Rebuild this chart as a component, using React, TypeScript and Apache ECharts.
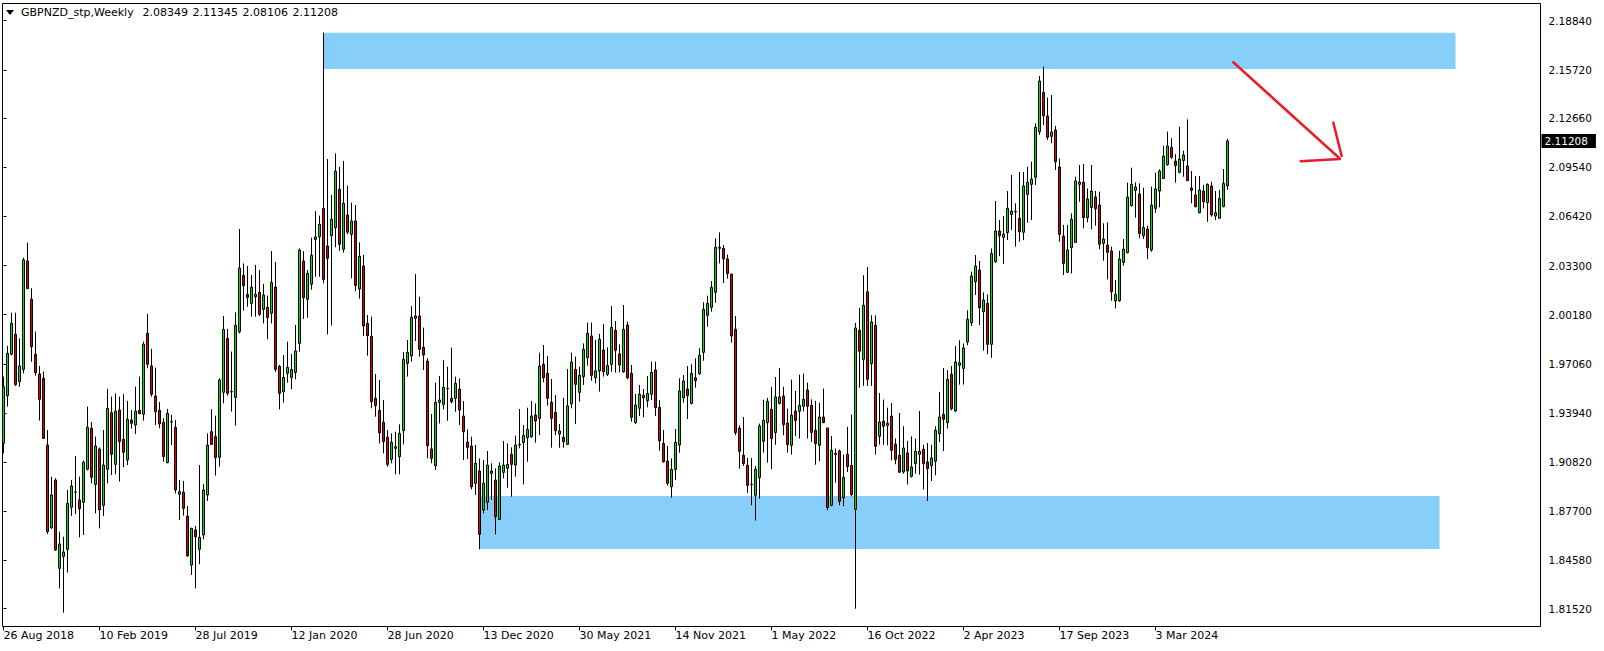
import React, { useEffect, useRef } from 'react';
import * as echarts from 'echarts';

// ---------- data ----------
const symbolName = 'GBPNZD_stp,Weekly';
const firstWeekUTC = Date.UTC(2018, 7, 26); // 26 Aug 2018
const emptyWeeksRight = 78; // chart shift (empty slots to the right)

const opens = [
  1.9202, 1.9504, 1.9767, 1.9894, 1.9593, 1.9671, 2.0359, 2.0116, 1.9767, 1.9642,
  1.9614, 1.9191, 1.8666, 1.8969, 1.8408, 1.8484, 1.8529, 1.8796, 1.8891, 1.8842,
  1.8827, 1.9037, 1.9297, 1.8941, 1.9166, 1.8808, 1.9037, 1.9396, 1.9068, 1.9413,
  1.9227, 1.9096, 1.9350, 1.9318, 1.9411, 1.9386, 1.9900, 1.9693, 1.9502, 1.9411,
  1.9335, 1.9079, 1.9339, 1.9303, 1.8878, 1.8891, 1.8740, 1.8429, 1.8652, 1.8529,
  1.8620, 1.8874, 1.9276, 1.9244, 1.9113, 1.9525, 1.9868, 1.9530,
  1.9493, 1.9910, 2.0268, 2.0147, 2.0090, 2.0132, 2.0160, 2.0052, 2.0065, 2.0027,
  2.0194, 1.9690, 1.9529, 1.9646, 1.9620, 1.9652, 1.9836, 2.0359, 2.0116, 2.0211,
  2.0496, 2.0513, 2.0693, 2.0454, 2.0520, 2.0571, 2.0814, 2.0433, 2.0651, 2.0528,
  2.0613, 2.0181, 2.0327, 1.9963, 1.9881, 1.9487, 1.9411, 1.9335, 1.9240, 1.9100,
  1.9170, 1.9117, 1.9282, 1.9709, 1.9756, 1.9995, 2.0010, 1.9811, 1.9724, 1.9166,
  1.9060, 1.9462, 1.9449, 1.9551, 1.9487, 1.9487, 1.9546, 1.9375, 1.9210, 1.9185,
  1.8948, 1.9026, 1.8778, 1.8827, 1.9011, 1.8969, 1.8719, 1.9017, 1.9043, 1.9132,
  1.9064, 1.9191, 1.9206, 1.9237, 1.9244, 1.9381, 1.9360, 1.9703, 1.9646, 1.9462,
  1.9398, 1.9261, 1.9240, 1.9195, 1.9453, 1.9671, 1.9525, 1.9625, 1.9745, 1.9883,
  1.9618, 1.9661, 1.9794, 1.9640, 1.9703, 1.9919, 1.9769, 1.9656, 1.9953, 1.9646,
  1.9333, 1.9424, 1.9506, 1.9472, 1.9513, 1.9667, 1.9430, 1.9201, 1.9089, 1.8926,
  1.9036, 1.9191, 1.9491, 1.9546, 1.9455, 1.9618, 1.9644, 1.9779, 2.0014, 2.0065, 2.0160, 2.0446,
  2.0439, 2.0372, 2.0275, 1.9926,
  1.9299, 1.9126, 1.9062, 1.8942, 1.8872, 1.8984, 1.9215, 1.9333, 1.9418, 1.9270,
  1.9454, 1.9502, 1.9331, 1.9189, 1.9407, 1.9405, 1.9437, 1.9540, 1.9443, 1.9284,
  1.9189, 1.9369, 1.9299, 1.8808, 1.9132, 1.9153, 1.8855, 1.9132, 1.9062, 1.8783,
  1.9919, 1.9735, 2.0163, 1.9708, 1.9951, 1.9246, 1.9342, 1.9316, 1.9375, 1.9196,
  1.9126, 1.9020, 1.9141, 1.8992, 1.9073, 1.9132, 1.9164, 1.9083, 1.9060, 1.9088,
  1.9263, 1.9386, 1.9333, 1.9640, 1.9407, 1.9697, 1.9676, 1.9845,
  1.9967, 2.0228, 2.0302, 2.0037, 2.0090, 1.9830, 2.0354, 2.0549, 2.0509, 2.0539,
  2.0655, 2.0672, 2.0630, 2.0541, 2.0782, 2.0845, 2.0890, 2.1180, 2.1429, 2.1279,
  2.1150, 2.1190, 2.0955, 2.0517, 2.0287, 2.0443, 2.0477, 2.0845, 2.0858, 2.0634,
  2.0699, 2.0765, 2.0714, 2.0471, 2.0460, 2.0422, 2.0105, 2.0107, 2.0350, 2.0412,
  2.0710, 2.0807, 2.0784, 2.0519, 2.0562, 2.0429, 2.0693, 2.0803, 2.0883, 2.0970,
  2.1080, 2.0993, 2.0922, 2.0996, 2.0962, 2.0822, 2.0778, 2.0665, 2.0803, 2.0729,
  2.0835, 2.0644, 2.0630, 2.0704, 2.08349,
];

const highs = [
  1.9625, 1.9820, 2.0031, 2.0031, 1.9868, 2.0380, 2.0476, 2.0186, 1.9911, 1.9693,
  1.9657, 1.9286, 1.8990, 1.8980, 1.8641, 1.8609, 1.8906, 1.8969, 1.9121, 1.8990,
  1.9092, 1.9435, 1.9337, 1.9244, 1.9176, 1.9286, 1.9547, 1.9498, 1.9519, 1.9498,
  1.9515, 1.9471, 1.9413, 1.9561, 1.9625, 1.9847, 2.0023, 1.9801, 1.9682, 1.9464,
  1.9361, 1.9420, 1.9382, 1.9350, 1.8969, 1.8963, 1.8804, 1.8666, 1.8677, 1.9064,
  1.8944, 1.9265, 1.9418, 1.9377, 1.9614, 2.0010, 1.9928, 1.9784,
  2.0033, 2.0562, 2.0344, 2.0327, 2.0270, 2.0334, 2.0302, 2.0213, 2.0139, 2.0422,
  2.0353, 1.9699, 1.9762, 1.9847, 1.9769, 1.9953, 2.0439, 2.0422, 2.0302, 2.0507,
  2.0676, 2.0647, 2.1808, 2.1006, 2.0778, 2.1042, 2.0958, 2.0994, 2.0837, 2.0729,
  2.0714, 2.0477, 2.0397, 2.0016, 2.0006, 1.9642, 1.9604, 1.9477, 1.9286, 1.9265,
  1.9275, 1.9322, 1.9781, 1.9857, 2.0073, 2.0276, 2.0132, 1.9936, 1.9741, 1.9388,
  1.9587, 1.9629, 1.9731, 1.9688, 1.9809, 1.9625, 1.9614, 1.9470, 1.9290, 1.9244,
  1.9191, 1.9106, 1.9096, 1.9153, 1.9075, 1.9043, 1.9081, 1.9216, 1.9201, 1.9176,
  1.9250, 1.9420, 1.9318, 1.9428, 1.9470, 1.9455, 1.9777, 1.9826, 1.9756, 1.9610,
  1.9508, 1.9324, 1.9491, 1.9673, 1.9777, 1.9752, 1.9688, 1.9836, 1.9968, 1.9968,
  1.9858, 1.9896, 1.9959, 1.9811, 2.0073, 1.9978, 1.9830, 2.0080, 1.9974, 1.9699,
  1.9515, 1.9572, 1.9546, 1.9629, 1.9720, 1.9720, 1.9477, 1.9286, 1.9185, 1.9106,
  1.9293, 1.9614, 1.9635, 1.9692, 1.9703, 1.9741, 1.9805, 2.0097, 2.0139, 2.0232, 2.0503, 2.0541,
  2.0460, 2.0400, 2.0280, 2.0010,
  1.9316, 1.9369, 1.9109, 1.9109, 1.9058, 1.9327, 1.9479, 1.9490, 1.9560, 1.9623,
  1.9680, 1.9560, 1.9422, 1.9606, 1.9534, 1.9638, 1.9644, 1.9587, 1.9481, 1.9471,
  1.9460, 1.9549, 1.9300, 1.9248, 1.9168, 1.9162, 1.9130, 1.9306, 1.9384, 1.9966,
  2.0061, 2.0268, 2.0321, 2.0014, 2.0014, 1.9521, 1.9479, 1.9428, 1.9458, 1.9232,
  1.9394, 1.9310, 1.9217, 1.9246, 1.9232, 1.9407, 1.9193, 1.9204, 1.9193, 1.9310,
  1.9528, 1.9680, 1.9665, 1.9693, 1.9820, 1.9856, 1.9835, 2.0046,
  2.0291, 2.0397, 2.0359, 2.0160, 2.0147, 2.0439, 2.0740, 2.0619, 2.0644, 2.0803,
  2.0905, 2.0725, 2.0924, 2.0924, 2.0957, 2.0989, 2.1233, 2.1533, 2.1592, 2.1396,
  2.1412, 2.1216, 2.1010, 2.0588, 2.0588, 2.0661, 2.0894, 2.0968, 2.0974, 2.0820,
  2.0968, 2.0803, 2.0799, 2.0598, 2.0604, 2.0450, 2.0238, 2.0424, 2.0498, 2.0856,
  2.0951, 2.0858, 2.0852, 2.0824, 2.0583, 2.0831, 2.0919, 2.0941, 2.1089, 2.1180,
  2.1138, 2.1038, 2.1211, 2.1059, 2.1258, 2.0930, 2.0898, 2.0898, 2.0841, 2.0852,
  2.0862, 2.0803, 2.0810, 2.0943, 2.11345,
];

const lows = [
  1.9138, 1.9435, 1.9760, 1.9565, 1.9561, 1.9646, 2.0180, 1.9720, 1.9631, 1.9346,
  1.9230, 1.8626, 1.8658, 1.8520, 1.8281, 1.8127, 1.8381, 1.8740, 1.8753, 1.8605,
  1.8620, 1.9030, 1.8948, 1.8757, 1.8662, 1.8740, 1.8948, 1.9001, 1.9005, 1.8959,
  1.9049, 1.9064, 1.9295, 1.9261, 1.9386, 1.9346, 1.9678, 1.9498, 1.9318, 1.9297,
  1.9085, 1.9075, 1.9191, 1.8884, 1.8715, 1.8743, 1.8482, 1.8366, 1.8281, 1.8434,
  1.8592, 1.8836, 1.9191, 1.8997, 1.9054, 1.9456, 1.9504, 1.9403,
  1.9314, 1.9900, 2.0044, 2.0069, 2.0006, 2.0006, 2.0010, 1.9963, 1.9862, 1.9963,
  1.9656, 1.9417, 1.9460, 1.9587, 1.9544, 1.9608, 1.9783, 1.9991, 1.9999, 2.0177,
  2.0259, 2.0259, 2.0217, 1.9893, 1.9949, 2.0446, 2.0424, 2.0412, 2.0528, 2.0249,
  2.0168, 2.0120, 1.9883, 1.9758, 1.9424, 1.9371, 1.9201, 1.9138, 1.9053, 1.9075,
  1.9005, 1.9005, 1.9195, 1.9625, 1.9720, 1.9851, 1.9752, 1.9667, 1.9106, 1.9075,
  1.9032, 1.9328, 1.9417, 1.9345, 1.9455, 1.9402, 1.9318, 1.9096, 1.9102, 1.8909,
  1.8874, 1.8529, 1.8757, 1.8778, 1.8842, 1.8624, 1.8715, 1.8979, 1.8920, 1.8863,
  1.8990, 1.9170, 1.8941, 1.9085, 1.9237, 1.9206, 1.9254, 1.9589, 1.9441, 1.9174,
  1.9254, 1.9174, 1.9174, 1.9191, 1.9424, 1.9324, 1.9466, 1.9572, 1.9695, 1.9599,
  1.9582, 1.9530, 1.9625, 1.9629, 1.9656, 1.9650, 1.9652, 1.9650, 1.9608, 1.9339,
  1.9324, 1.9375, 1.9367, 1.9430, 1.9477, 1.9375, 1.9155, 1.9079, 1.8933, 1.8857,
  1.8969, 1.9142, 1.9460, 1.9356, 1.9449, 1.9555, 1.9635, 1.9726, 1.9942, 2.0037, 2.0094, 2.0344,
  2.0219, 2.0247, 1.9841, 1.9253,
  1.9041, 1.9058, 1.8887, 1.8808, 1.8711, 1.8851, 1.9143, 1.9079, 1.9037, 1.9193,
  1.9450, 1.9253, 1.9143, 1.9130, 1.9248, 1.9232, 1.9405, 1.9232, 1.9210, 1.9066,
  1.9088, 1.9330, 1.8777, 1.8802, 1.8952, 1.8808, 1.8802, 1.9020, 1.8865, 1.8152,
  1.9555, 1.9566, 1.9566, 1.9566, 1.9130, 1.9193, 1.9193, 1.9189, 1.9094, 1.9069,
  1.9016, 1.9009, 1.8940, 1.8984, 1.9009, 1.9003, 1.8908, 1.8836, 1.8963, 1.8999,
  1.9210, 1.9153, 1.9295, 1.9411, 1.9401, 1.9574, 1.9574, 1.9824,
  1.9946, 2.0143, 1.9952, 1.9790, 1.9768, 1.9745, 2.0348, 2.0390, 2.0340, 2.0492,
  2.0555, 2.0450, 2.0481, 2.0492, 2.0602, 2.0619, 2.0841, 2.1159, 2.1222, 2.1127,
  2.1106, 2.0936, 2.0481, 2.0270, 2.0285, 2.0280, 2.0475, 2.0735, 2.0566, 2.0604,
  2.0560, 2.0583, 2.0433, 2.0361, 2.0242, 2.0107, 2.0058, 2.0100, 2.0329, 2.0407,
  2.0704, 2.0634, 2.0503, 2.0498, 2.0371, 2.0418, 2.0665, 2.0699, 2.0879, 2.0964,
  2.1006, 2.0856, 2.0915, 2.0894, 2.0867, 2.0725, 2.0699, 2.0661, 2.0693, 2.0608,
  2.0640, 2.0619, 2.0628, 2.0700, 2.08106,
];

const closes = [
  1.9561, 1.9773, 1.9964, 1.9574, 1.9693, 2.0366, 2.0184, 1.9815, 1.9650, 1.9481,
  1.9233, 1.8641, 1.8874, 1.8525, 1.8563, 1.8512, 1.8821, 1.8931, 1.8893, 1.8787,
  1.9081, 1.9303, 1.8986, 1.9185, 1.8779, 1.9064, 1.9424, 1.9132, 1.9405, 1.9214,
  1.9145, 1.9354, 1.9329, 1.9407, 1.9390, 1.9832, 1.9703, 1.9513, 1.9403, 1.9325,
  1.9117, 1.9392, 1.9337, 1.8906, 1.8895, 1.8789, 1.8487, 1.8662, 1.8609, 1.8605,
  1.8906, 1.9191, 1.9195, 1.9111, 1.9604, 1.9925, 1.9519, 1.9528,
  1.9951, 2.0314, 2.0202, 2.0128, 2.0192, 2.0147, 2.0020, 2.0143, 2.0001, 2.0223,
  1.9671, 1.9519, 1.9620, 1.9684, 1.9671, 1.9788, 2.0429, 2.0126, 2.0281, 2.0395,
  2.0511, 2.0592, 2.0242, 2.0376, 2.0623, 2.0928, 2.0465, 2.0725, 2.0541, 2.0613,
  2.0204, 2.0389, 1.9946, 1.9885, 1.9466, 1.9441, 1.9269, 1.9212, 1.9068, 1.9208,
  1.9180, 1.9265, 1.9735, 1.9779, 2.0001, 2.0010, 1.9798, 1.9762, 1.9187, 1.9106,
  1.9462, 1.9477, 1.9557, 1.9549, 1.9466, 1.9582, 1.9413, 1.9275, 1.9176, 1.8926,
  1.9075, 1.8624, 1.8948, 1.9064, 1.9026, 1.8736, 1.9058, 1.9064, 1.9068, 1.9068,
  1.9191, 1.9195, 1.9252, 1.9290, 1.9375, 1.9343, 1.9692, 1.9618, 1.9487, 1.9360,
  1.9282, 1.9280, 1.9212, 1.9439, 1.9718, 1.9576, 1.9633, 1.9798, 1.9900, 1.9633,
  1.9661, 1.9862, 1.9656, 1.9695, 1.9938, 1.9792, 1.9699, 1.9925, 1.9618, 1.9367,
  1.9445, 1.9513, 1.9491, 1.9519, 1.9652, 1.9428, 1.9218, 1.9085, 1.8948, 1.9036,
  1.9208, 1.9534, 1.9597, 1.9504, 1.9646, 1.9599, 1.9760, 2.0052, 2.0090, 2.0192, 2.0446, 2.0439,
  2.0372, 2.0279, 1.9883, 1.9270,
  1.9151, 1.9073, 1.8935, 1.8940, 1.9037, 1.9312, 1.9348, 1.9468, 1.9232, 1.9496,
  1.9496, 1.9320, 1.9193, 1.9380, 1.9346, 1.9443, 1.9481, 1.9437, 1.9270, 1.9200,
  1.9369, 1.9333, 1.8794, 1.9157, 1.9138, 1.8834, 1.8986, 1.9054, 1.8876, 1.9934,
  1.9786, 2.0078, 1.9608, 1.9972, 1.9183, 1.9337, 1.9310, 1.9329, 1.9157, 1.9100,
  1.9018, 1.9172, 1.9026, 1.9052, 1.9151, 1.9151, 1.9073, 1.9041, 1.9109, 1.9284,
  1.9369, 1.9354, 1.9608, 1.9422, 1.9718, 1.9712, 1.9807, 1.9989,
  2.0264, 2.0327, 2.0062, 2.0111, 1.9830, 2.0407, 2.0549, 2.0519, 2.0530, 2.0693,
  2.0676, 2.0670, 2.0545, 2.0835, 2.0858, 2.0879, 2.1207, 2.1501, 2.1281, 2.1144,
  2.1178, 2.0989, 2.0528, 2.0344, 2.0429, 2.0623, 2.0867, 2.0860, 2.0634, 2.0752,
  2.0803, 2.0691, 2.0465, 2.0498, 2.0414, 2.0164, 2.0147, 2.0371, 2.0435, 2.0765,
  2.0845, 2.0828, 2.0534, 2.0572, 2.0443, 2.0714, 2.0816, 2.0930, 2.1025, 2.1089,
  2.1017, 2.0964, 2.1006, 2.1032, 2.0869, 2.0807, 2.0704, 2.0810, 2.0735, 2.0845,
  2.0651, 2.0665, 2.0756, 2.0852, 2.11208,
];

const priceTicks = [
  2.1884, 2.1572, 2.1266, 2.0954, 2.0642, 2.033, 2.0018,
  1.9706, 1.9394, 1.9082, 1.877, 1.8458, 1.8152,
];
const dateTickLabels = [
  '26 Aug 2018', '10 Feb 2019', '28 Jul 2019', '12 Jan 2020', '28 Jun 2020',
  '13 Dec 2020', '30 May 2021', '14 Nov 2021', '1 May 2022', '16 Oct 2022',
  '2 Apr 2023', '17 Sep 2023', '3 Mar 2024',
];
const weeksPerDateTick = 24;

// drawn objects: [fromBar, toBar, topPrice, bottomPrice]
const zoneUpper = [80, 363, 2.1808, 2.1577];
const zoneLower = [119, 359, 1.8867, 1.8531];
// red arrow segments: [bar, price]
const arrowShaft = [[307.45, 2.162], [334.0, 2.1011]];
const arrowHeadA = [[332.45, 2.1237], [334.55, 2.1025]];
const arrowHeadB = [[324.3, 2.0992], [334.1, 2.1006]];

const MONTHS = ['Jan', 'Feb', 'Mar', 'Apr', 'May', 'Jun', 'Jul', 'Aug', 'Sep', 'Oct', 'Nov', 'Dec'];
const barCount = opens.length;
const totalSlots = barCount + emptyWeeksRight;
const categories: string[] = [];
for (let i = 0; i < totalSlots; i++) {
  if (i < barCount) {
    const d = new Date(firstWeekUTC + i * 7 * 86400000);
    categories.push(`${d.getUTCDate()} ${MONTHS[d.getUTCMonth()]} ${d.getUTCFullYear()}`);
  } else {
    categories.push('');
  }
}

const FONT = 'DejaVu Sans';
const Y_MIN = 1.80391;
const Y_MAX = 2.19932;

export default function App() {
  const ref = useRef<HTMLDivElement>(null);
  useEffect(() => {
    if (!ref.current) return;
    const chart = echarts.init(ref.current, null, { renderer: 'svg' });
    const last = barCount - 1;
    const f5 = (v: number) => v.toFixed(5);
    const showTick = (index: number) => index % weeksPerDateTick === 0 && index < barCount;
    const headerText = (text: string, left: number) => ({
      text,
      left,
      top: 6,
      padding: 0,
      textStyle: {
        fontFamily: FONT,
        fontSize: 11,
        fontWeight: 'normal',
        color: '#000',
        lineHeight: 13,
      },
    });
    const arrowSeries = (name: string, pts: number[][]) => ({
      name,
      type: 'line',
      xAxisIndex: 1,
      yAxisIndex: 0,
      data: pts,
      symbol: 'none',
      silent: true,
      z: 6,
      lineStyle: { color: '#ec1c24', width: 2.5, cap: 'round' },
    });
    const ohlcLast = [opens[last], highs[last], lows[last], closes[last]];
    const option: any = {
      animation: false,
      backgroundColor: '#ffffff',
      title: [
        headerText(symbolName, 21),
        ...ohlcLast.map((v, k) => headerText(f5(v), 142.5 + k * 50)),
      ],
      grid: {
        left: 3.5,
        right: 64.5,
        top: 3.5,
        bottom: 24.5,
        containLabel: false,
        outerBoundsMode: 'none',
      },
      xAxis: [
        {
          type: 'category',
          data: categories,
          boundaryGap: false,
          axisLine: { show: false },
          axisTick: {
            show: true,
            interval: (index: number) => showTick(index),
            length: 4,
            lineStyle: { color: '#000', width: 1 },
          },
          axisLabel: {
            interval: (index: number) => showTick(index),
            formatter: (value: string, index: number) =>
              showTick(index) ? dateTickLabels[index / weeksPerDateTick] ?? value : '',
            align: 'left',
            margin: 3,
            fontFamily: FONT,
            fontSize: 11,
            color: '#000',
          },
          splitLine: { show: false },
        },
        {
          type: 'value',
          min: 0,
          max: totalSlots - 1,
          show: false,
        },
      ],
      yAxis: [
        {
          type: 'value',
          position: 'right',
          min: Y_MIN,
          max: Y_MAX,
          scale: true,
          axisLine: { show: false },
          splitLine: { show: false },
          axisTick: {
            show: true,
            inside: false,
            length: 3,
            customValues: priceTicks,
            lineStyle: { color: '#000', width: 1 },
          },
          axisLabel: {
            customValues: priceTicks,
            formatter: (v: number) => f5(v),
            margin: 9,
            fontFamily: FONT,
            fontSize: 10.5,
            color: '#000',
          },
        },
        {
          type: 'value',
          position: 'right',
          offset: 0,
          min: Y_MIN,
          max: Y_MAX,
          scale: true,
          axisLine: { show: false },
          splitLine: { show: false },
          axisTick: { show: false },
          axisLabel: {
            customValues: [closes[last]],
            formatter: (v: number) => f5(v),
            margin: 2,
            fontFamily: FONT,
            fontSize: 10.5,
            color: '#ffffff',
            backgroundColor: '#000000',
            padding: [2, 8, 1, 3],
          },
        },
      ],
      graphic: [
        {
          type: 'rect',
          z: 20,
          silent: true,
          shape: { x: 2.5, y: 3.5, width: 1538, height: 623 },
          style: { fill: 'none', stroke: '#000', lineWidth: 1 },
        },
        {
          type: 'polygon',
          z: 20,
          silent: true,
          shape: { points: [[6, 10], [14, 10], [10, 15]] },
          style: { fill: '#000', stroke: 'none' },
        },
      ],
      series: [
        {
          name: 'zones',
          type: 'line',
          xAxisIndex: 1,
          yAxisIndex: 0,
          data: [],
          silent: true,
          z: 1,
          markArea: {
            silent: true,
            z: 1,
            itemStyle: { color: '#87cefa', opacity: 1, borderWidth: 0 },
            label: { show: false },
            data: [
              [
                { coord: [zoneUpper[0], zoneUpper[2]] },
                { coord: [zoneUpper[1], zoneUpper[3]] },
              ],
              [
                { coord: [zoneLower[0], zoneLower[2]] },
                { coord: [zoneLower[1], zoneLower[3]] },
              ],
            ],
          },
        },
        {
          name: 'GBPNZD',
          type: 'candlestick',
          xAxisIndex: 0,
          yAxisIndex: 0,
          data: opens.map((o, i) => [o, closes[i], lows[i], highs[i]]),
          barWidth: 2,
          clip: false,
          silent: true,
          z: 3,
          itemStyle: {
            color: '#00e000',
            color0: '#e00000',
            borderColor: '#000000',
            borderColor0: '#000000',
            borderColorDoji: '#000000',
            borderWidth: 1,
          },
        },
        arrowSeries('arrowShaft', arrowShaft),
        arrowSeries('arrowHeadA', arrowHeadA),
        arrowSeries('arrowHeadB', arrowHeadB),
      ],
    };
    chart.setOption(option);
    return () => chart.dispose();
  }, []);
  return (
    <div
      ref={ref}
      style={{ position: 'fixed', left: 0, top: 0, width: 1604, height: 651, background: '#fff' }}
    />
  );
}
